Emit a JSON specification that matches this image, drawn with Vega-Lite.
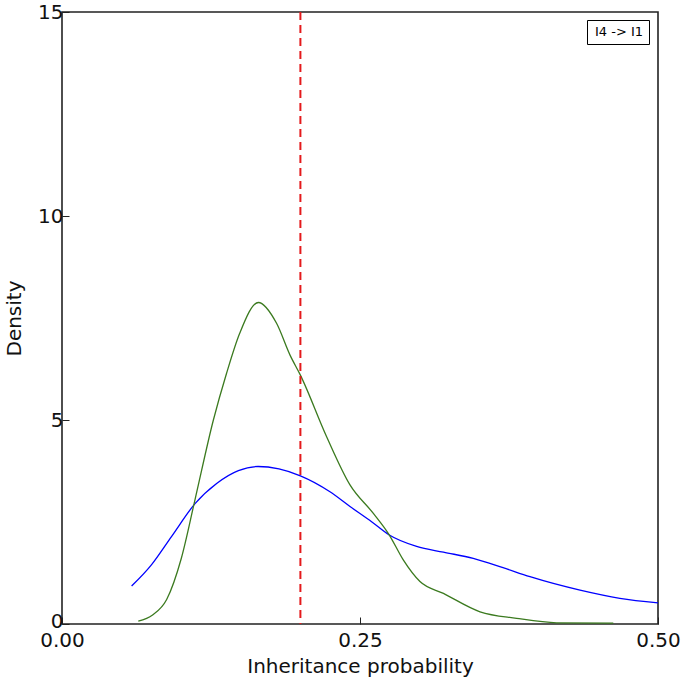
{
  "$schema": "https://vega.github.io/schema/vega-lite/v6.json",
  "width": 596,
  "height": 612,
  "autosize": {"type": "none"},
  "padding": {"left": 62, "top": 12, "right": 24, "bottom": 58},
  "background": "white",
  "config": {
    "font": "DejaVu Sans",
    "view": {"stroke": "#222222", "strokeWidth": 1.6},
    "axis": {"grid": false, "domain": false, "tickColor": "#222222", "tickSize": -7, "tickWidth": 1, "labelColor": "#111111", "titleColor": "#111111", "labelFont": "DejaVu Sans", "titleFont": "DejaVu Sans", "labelFontSize": 20, "titleFontSize": 20, "titleFontWeight": "normal", "labelFlush": false}
  },
  "datasets": {
    "curves": [
      {"series": "blue", "x": 0.0584, "y": 0.93},
      {"series": "blue", "x": 0.075, "y": 1.45},
      {"series": "blue", "x": 0.092, "y": 2.15},
      {"series": "blue", "x": 0.1116, "y": 2.95},
      {"series": "blue", "x": 0.13, "y": 3.45},
      {"series": "blue", "x": 0.148, "y": 3.76},
      {"series": "blue", "x": 0.1645, "y": 3.86},
      {"series": "blue", "x": 0.182, "y": 3.8},
      {"series": "blue", "x": 0.2, "y": 3.63},
      {"series": "blue", "x": 0.2248, "y": 3.24},
      {"series": "blue", "x": 0.2416, "y": 2.88},
      {"series": "blue", "x": 0.26, "y": 2.5},
      {"series": "blue", "x": 0.2746, "y": 2.18},
      {"series": "blue", "x": 0.2975, "y": 1.9},
      {"series": "blue", "x": 0.32, "y": 1.76},
      {"series": "blue", "x": 0.345, "y": 1.61},
      {"series": "blue", "x": 0.37, "y": 1.38},
      {"series": "blue", "x": 0.3926, "y": 1.16},
      {"series": "blue", "x": 0.4346, "y": 0.83},
      {"series": "blue", "x": 0.468, "y": 0.63},
      {"series": "blue", "x": 0.5, "y": 0.52},
      {"series": "green", "x": 0.064, "y": 0.07},
      {"series": "green", "x": 0.076, "y": 0.22},
      {"series": "green", "x": 0.0878, "y": 0.6},
      {"series": "green", "x": 0.1, "y": 1.6},
      {"series": "green", "x": 0.1116, "y": 3.05},
      {"series": "green", "x": 0.127, "y": 5.0},
      {"series": "green", "x": 0.138, "y": 6.14},
      {"series": "green", "x": 0.149, "y": 7.12},
      {"series": "green", "x": 0.1647, "y": 7.88},
      {"series": "green", "x": 0.18, "y": 7.37},
      {"series": "green", "x": 0.1913, "y": 6.59},
      {"series": "green", "x": 0.2, "y": 6.1},
      {"series": "green", "x": 0.222, "y": 4.59},
      {"series": "green", "x": 0.2416, "y": 3.41},
      {"series": "green", "x": 0.2612, "y": 2.71},
      {"series": "green", "x": 0.2746, "y": 2.18},
      {"series": "green", "x": 0.2863, "y": 1.57},
      {"series": "green", "x": 0.3003, "y": 1.04},
      {"series": "green", "x": 0.32, "y": 0.75},
      {"series": "green", "x": 0.3507, "y": 0.3},
      {"series": "green", "x": 0.3814, "y": 0.14},
      {"series": "green", "x": 0.415, "y": 0.03},
      {"series": "green", "x": 0.4625, "y": 0.02}
    ],
    "threshold": [{"x": 0.2}],
    "legend": [{"label": "I4 -> I1", "x": 0.3, "y": 0}]
  },
  "layer": [
    {
      "data": {"name": "curves"},
      "mark": {"type": "line", "interpolate": "monotone", "strokeWidth": 1.3},
      "encoding": {
        "x": {"field": "x", "type": "quantitative", "scale": {"domain": [0, 0.5], "nice": false}, "axis": {"values": [0, 0.25, 0.5], "format": ".2f", "title": "Inheritance probability", "labelPadding": 13, "titlePadding": 6}},
        "y": {"field": "y", "type": "quantitative", "scale": {"domain": [0, 15], "nice": false}, "axis": {"values": [0, 5, 10, 15], "title": "Density", "labelPadding": 6, "titlePadding": 13, "labelOffset": {"condition": {"test": "datum.value == 0", "value": -3}, "value": 0}}},
        "color": {"field": "series", "type": "nominal", "scale": {"domain": ["blue", "green"], "range": ["#0000ff", "#3b7a1f"]}, "legend": null}
      }
    },
    {
      "data": {"name": "threshold"},
      "mark": {"type": "rule", "color": "#e41a1c", "strokeWidth": 2, "strokeDash": [8, 5]},
      "encoding": {"x": {"field": "x", "type": "quantitative"}}
    },
    {
      "data": {"name": "legend"},
      "mark": {"type": "point", "opacity": 0},
      "encoding": {
        "x": {"field": "x", "type": "quantitative"},
        "y": {"field": "y", "type": "quantitative"},
        "shape": {"field": "label", "type": "nominal", "legend": {"title": null, "orient": "none", "legendX": 525, "legendY": 8, "symbolSize": 0, "symbolOpacity": 0, "symbolStrokeWidth": 0, "labelOffset": -10, "labelFontSize": 13, "labelColor": "#000000", "labelFont": "DejaVu Sans", "strokeColor": "#000000", "padding": 5, "fillColor": "white", "encode": {"legend": {"update": {"strokeWidth": {"value": 1.6}}}}}}
      }
    }
  ]
}
